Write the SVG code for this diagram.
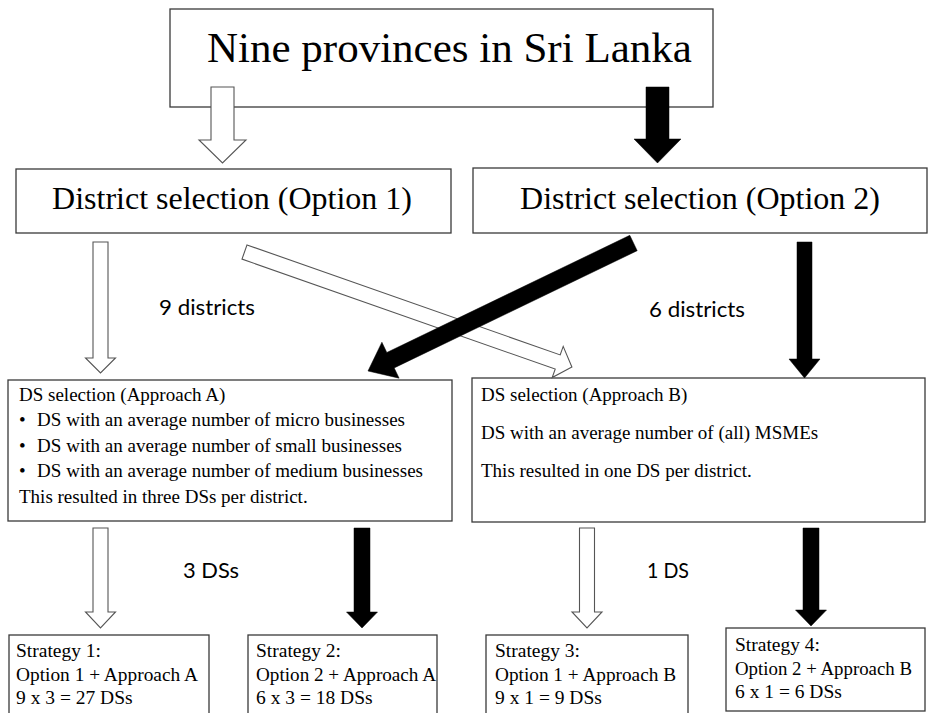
<svg xmlns="http://www.w3.org/2000/svg" width="929" height="713" viewBox="0 0 929 713">
<style>
.box{fill:#fff;stroke:#3a3a3a;stroke-width:1.3}
.hol{fill:#fff;stroke:#555;stroke-width:1.1;stroke-linejoin:miter}
.blk{fill:#000;stroke:#000;stroke-width:0.5}
.ser{font-family:"Liberation Serif","Times New Roman",serif;fill:#000}
.lbl{font-family:Lato,"Noto Sans","Liberation Sans",sans-serif;font-size:21px;fill:#000}
.t19{font-size:19px}
.t20{font-size:19.5px}
</style>
<rect width="929" height="713" fill="#fff"/>

<g id="n-provinces">
<rect class="box" x="170" y="9" width="543" height="98"/>
<text class="ser" x="207" y="62" font-size="43">Nine provinces in Sri Lanka</text>
</g>

<g id="n-option1">
<rect class="box" x="16" y="169" width="435" height="64"/>
<text class="ser" x="232" y="209" font-size="32" text-anchor="middle">District selection (Option 1)</text>
</g>

<g id="n-option2">
<rect class="box" x="473" y="168" width="454" height="65"/>
<text class="ser" x="700" y="209" font-size="32" text-anchor="middle">District selection (Option 2)</text>
</g>

<g id="n-approachA">
<rect class="box" x="8" y="380" width="444" height="141"/>
<text class="ser t19" x="19" y="401">DS selection  (Approach A)</text>
<text class="ser t19" x="19" y="426">•</text>
<text class="ser t19" x="37" y="426" textLength="368" lengthAdjust="spacing">DS with an average number of micro businesses</text>
<text class="ser t19" x="19" y="452">•</text>
<text class="ser t19" x="37" y="452" textLength="365" lengthAdjust="spacing">DS with an average number of small businesses</text>
<text class="ser t19" x="19" y="477">•</text>
<text class="ser t19" x="37" y="477" textLength="386" lengthAdjust="spacing">DS with an average number of medium businesses</text>
<text class="ser t19" x="19" y="503">This resulted in three DSs per district.</text>
</g>

<g id="n-approachB">
<rect class="box" x="472" y="378" width="453" height="144"/>
<text class="ser t19" x="481" y="401">DS selection  (Approach B)</text>
<text class="ser t19" x="481" y="439">DS with an average number of (all)  MSMEs</text>
<text class="ser t19" x="481" y="477">This resulted in one DS per district.</text>
</g>

<g id="n-strategy1">
<rect class="box" x="9" y="635" width="200" height="90"/>
<text class="ser t20" x="16" y="657">Strategy 1:</text>
<text class="ser t20" x="16" y="681" textLength="182" lengthAdjust="spacingAndGlyphs">Option 1 + Approach A</text>
<text class="ser t20" x="16" y="704">9 x 3 = 27 DSs</text>
</g>

<g id="n-strategy2">
<rect class="box" x="248" y="635" width="189" height="90"/>
<text class="ser t20" x="256" y="657">Strategy 2:</text>
<text class="ser t20" x="256" y="681" textLength="180" lengthAdjust="spacingAndGlyphs">Option 2 + Approach A</text>
<text class="ser t20" x="256" y="704">6 x 3 = 18 DSs</text>
</g>

<g id="n-strategy3">
<rect class="box" x="486" y="635" width="202" height="90"/>
<text class="ser t20" x="495" y="657">Strategy 3:</text>
<text class="ser t20" x="495" y="681" textLength="181" lengthAdjust="spacingAndGlyphs">Option 1 + Approach B</text>
<text class="ser t20" x="495" y="704">9 x 1 = 9 DSs</text>
</g>

<g id="n-strategy4">
<rect class="box" x="726" y="628" width="199" height="83"/>
<text class="ser t20" x="735" y="651">Strategy 4:</text>
<text class="ser t20" x="735" y="675" textLength="177" lengthAdjust="spacingAndGlyphs">Option 2 + Approach B</text>
<text class="ser t20" x="735" y="698">6 x 1 = 6 DSs</text>
</g>

<g id="connectors">
<polygon class="hol" points="211,87 234,87 234,140 246,140 222.5,163 199,140 211,140"/>
<polygon class="blk" points="646,87 669,87 669,139 681,139 657.5,163 634,139 646,139"/>
<polygon class="hol" points="93,242 108,242 108,358 115.5,358 100.5,373 85.5,358 93,358"/>
<polygon class="hol" points="247,244.9 560.2,354.9 563.2,346.4 571.9,367 552.2,377.6 555.2,369.1 242,259.1"/>
<polygon class="blk" points="629.8,235.3 386.8,352.5 381.9,342.2 368,371 399.1,378.2 394.2,367.9 637.2,250.7"/>
<polygon class="blk" points="797,242 812,242 812,359 820,359 804.5,378 789,359 797,359"/>
<polygon class="hol" points="93,528 108,528 108,612 115.5,612 100.5,628 85.5,612 93,612"/>
<polygon class="blk" points="354,528 370,528 370,612 377.5,612 362,628 346.5,612 354,612"/>
<polygon class="hol" points="579.5,528 594.5,528 594.5,612 602,612 587,628 572,612 579.5,612"/>
<polygon class="blk" points="803,528 819,528 819,610 826.5,610 811,626 795.5,610 803,610"/>
<text class="lbl" x="159" y="315" textLength="96" lengthAdjust="spacingAndGlyphs">9 districts</text>
<text class="lbl" x="649" y="317" textLength="96" lengthAdjust="spacingAndGlyphs">6 districts</text>
<text class="lbl" x="183" y="578" textLength="56" lengthAdjust="spacingAndGlyphs">3 DSs</text>
<text class="lbl" x="647" y="578" textLength="42" lengthAdjust="spacingAndGlyphs">1 DS</text>
</g>
</svg>
